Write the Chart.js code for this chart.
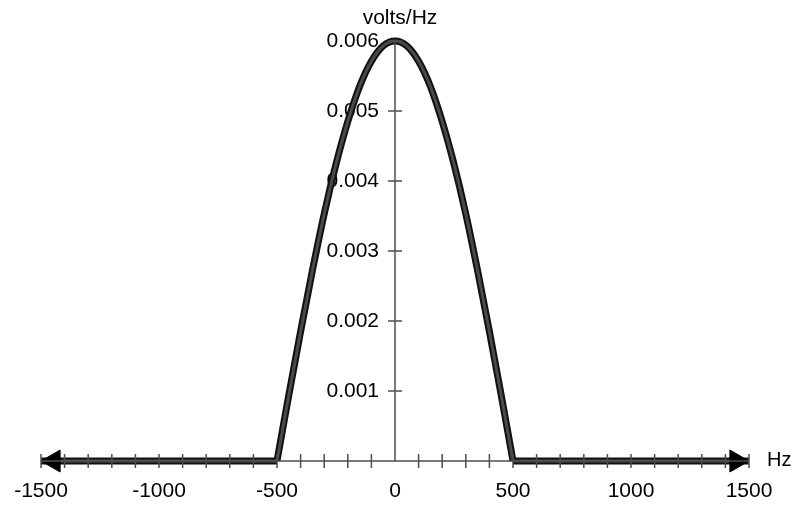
<!DOCTYPE html>
<html>
<head>
<meta charset="utf-8">
<script src="https://cdn.jsdelivr.net/npm/chart.js@4.4.1/dist/chart.umd.min.js"></script>
<style>
  html, body { margin: 0; padding: 0; background: #fff; }
  #wrap { width: 796px; height: 506px; }
</style>
</head>
<body>
<div id="wrap"><canvas id="c" width="796" height="506"></canvas></div>
<script>
/* ---------------------------------------------------------------
   Spectrum plot: volts/Hz vs Hz, half-cosine pulse from -500..500
   Axes are drawn through the origin by a small plugin.
   --------------------------------------------------------------- */

// pulse: frequency samples (Hz) and spectrum values (volts/Hz)
const pulseHz = [-500, -450, -400, -350, -300, -250, -200, -150, -100, -50,
                 0, 50, 100, 150, 200, 250, 300, 350, 400, 450, 500];
const pulseVolts = [0, 0.00094, 0.00185, 0.00272, 0.00353, 0.00424, 0.00485, 0.00535, 0.00571, 0.00593,
                    0.006, 0.00593, 0.00571, 0.00535, 0.00485, 0.00424, 0.00353, 0.00272, 0.00185, 0.00094, 0];

// flat zero parts either side of the pulse
const leftHz = [-1500, -500];
const leftVolts = [0, 0];
const rightHz = [500, 1500];
const rightVolts = [0, 0];

// arrow heads on the frequency axis
const arrowHz = [-1446, 1446];
const arrowRot = [-90, 90];

// tick labels
const xTickLabels = [-1500, -1000, -500, 0, 500, 1000, 1500];
const yTickLabels = ["0.001", "0.002", "0.003", "0.004", "0.005", "0.006"];
const yTicks = [0, 0.001, 0.002, 0.003, 0.004, 0.005, 0.006];

const FONT = '21px "Liberation Sans", Arial, sans-serif';
const AXIS_COLOR = "#4d4d4d";

const toPts = (xs, ys) => xs.map((x, i) => ({ x, y: ys[i] }));
const pieces = [toPts(leftHz, leftVolts), toPts(pulseHz, pulseVolts), toPts(rightHz, rightVolts)];
const arrows = arrowHz.map(x => ({ x, y: 0 }));

const axesPlugin = {
  id: "originAxes",
  // labels go under the curve (the curve overlaps some of them)
  beforeDatasetsDraw(chart) {
    const { ctx, scales: { x, y } } = chart;
    const x0 = x.getPixelForValue(0);
    const y0 = y.getPixelForValue(0);
    ctx.save();
    ctx.fillStyle = "#000";
    ctx.font = FONT;

    ctx.textAlign = "right";
    ctx.textBaseline = "middle";
    yTickLabels.forEach(lbl => {
      ctx.fillText(lbl, x0 - 16, y.getPixelForValue(Number(lbl)));
    });

    ctx.textAlign = "center";
    xTickLabels.forEach(v => {
      ctx.fillText(String(v), x.getPixelForValue(v), y0 + 30);
    });

    ctx.textBaseline = "alphabetic";
    ctx.fillText("volts/Hz", x0 + 5, 24);
    ctx.textAlign = "left";
    ctx.textBaseline = "middle";
    ctx.font = '20px "Liberation Sans", Arial, sans-serif';
    ctx.fillText("Hz", x.right + 18, y0 - 1);
    ctx.restore();
  },
  // axis lines and crossing tick marks sit on top
  afterDatasetsDraw(chart) {
    const { ctx, scales: { x, y } } = chart;
    const x0 = x.getPixelForValue(0);
    const y0 = y.getPixelForValue(0);
    ctx.save();
    ctx.strokeStyle = AXIS_COLOR;
    ctx.lineWidth = 1.5;
    ctx.beginPath();
    ctx.moveTo(x.left, y0);
    ctx.lineTo(x.right, y0);
    ctx.moveTo(x0, y0);
    ctx.lineTo(x0, y.getPixelForValue(0.006));
    // x ticks every 100 Hz
    for (let v = -1500; v <= 1500; v += 100) {
      if (v === 0) continue;
      const px = x.getPixelForValue(v);
      ctx.moveTo(px, y0 - 7);
      ctx.lineTo(px, y0 + 7);
    }
    yTicks.forEach(v => {
      const py = y.getPixelForValue(v);
      ctx.moveTo(x0 - 7, py);
      ctx.lineTo(x0 + 7, py);
    });
    ctx.stroke();
    ctx.restore();
  }
};

// each piece is drawn twice: a dark wide edge, then a grey core on top
const lineSets = [];
pieces.forEach(data => {
  lineSets.push({
    data, borderColor: "#111", borderWidth: 7, pointRadius: 0,
    cubicInterpolationMode: "monotone", clip: false, order: 2
  });
  lineSets.push({
    data, borderColor: "#4a4a4a", borderWidth: 3, pointRadius: 0,
    cubicInterpolationMode: "monotone", clip: false, order: 1
  });
});

new Chart(document.getElementById("c"), {
  type: "line",
  data: {
    datasets: [
      {
        label: "arrows",
        data: arrows,
        showLine: false,
        pointStyle: "triangle",
        pointRadius: 12.7,
        pointRotation: arrowRot,
        pointBackgroundColor: "#000",
        pointBorderColor: "#000",
        pointBorderWidth: 1,
        clip: false,
        order: 0
      },
      ...lineSets
    ]
  },
  options: {
    responsive: false,
    animation: false,
    layout: { padding: { left: 41, right: 47, top: 41, bottom: 45 } },
    plugins: {
      legend: { display: false },
      tooltip: { enabled: false }
    },
    scales: {
      x: { type: "linear", min: -1500, max: 1500, display: false },
      y: { type: "linear", min: 0, max: 0.006, display: false }
    }
  },
  plugins: [axesPlugin]
});
</script>
</body>
</html>
